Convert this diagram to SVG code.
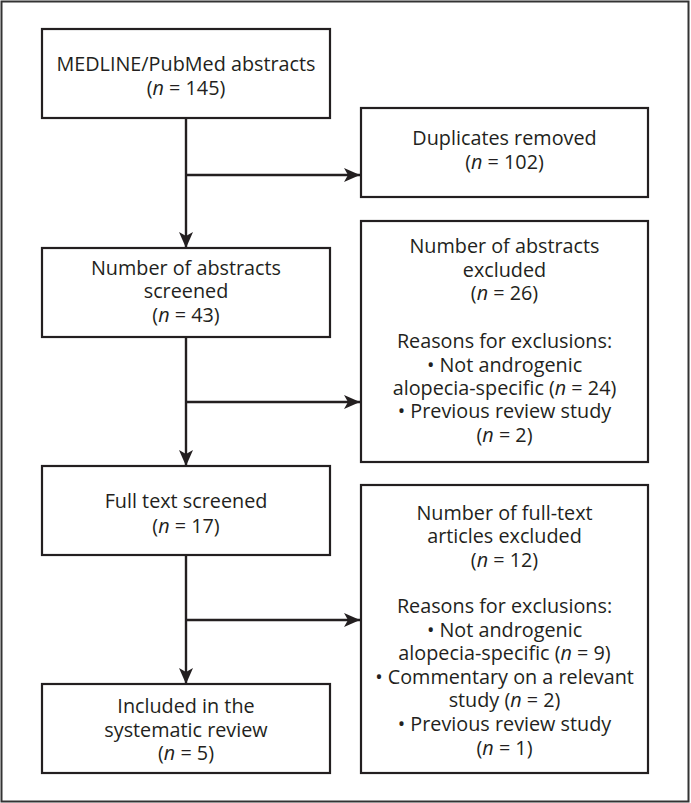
<svg xmlns="http://www.w3.org/2000/svg" width="691" height="803" viewBox="0 0 691 803">
<defs>
<style>
.box{fill:#fff;stroke:#231f20;stroke-width:2.2}
.frame{fill:#fff;stroke:#333;stroke-width:2}
.t{font-family:"Open Sans","Noto Sans","Liberation Sans",sans-serif;font-size:19.8px;fill:#231f20;text-anchor:middle}
.i{font-style:italic}
.c{fill:none;stroke:#231f20;stroke-width:2.4}
</style>
<marker id="ah" markerWidth="16" markerHeight="14" refX="16" refY="7" orient="auto" markerUnits="userSpaceOnUse">
<path d="M0,0 L16,7 L0,14 L4,7 Z" fill="#231f20"/>
</marker>
</defs>
<rect class="frame" x="1.5" y="1.5" width="687" height="800"/>
<g id="connectors">
<line class="c" x1="186" y1="118" x2="186" y2="248" marker-end="url(#ah)"/>
<line class="c" x1="186" y1="175" x2="360" y2="175" marker-end="url(#ah)"/>
<line class="c" x1="186" y1="337" x2="186" y2="466" marker-end="url(#ah)"/>
<line class="c" x1="186" y1="402" x2="360" y2="402" marker-end="url(#ah)"/>
<line class="c" x1="186" y1="555" x2="186" y2="684" marker-end="url(#ah)"/>
<line class="c" x1="186" y1="620" x2="360" y2="620" marker-end="url(#ah)"/>
</g>
<g id="n1">
<rect class="box" x="42" y="29" width="288" height="89"/>
<text class="t"><tspan x="186" y="71">MEDLINE/PubMed abstracts</tspan><tspan x="186" y="95">(<tspan class="i">n</tspan> = 145)</tspan></text>
</g>
<g id="n2">
<rect class="box" x="361" y="108" width="287" height="89"/>
<text class="t"><tspan x="504.5" y="145">Duplicates removed</tspan><tspan x="504.5" y="169">(<tspan class="i">n</tspan> = 102)</tspan></text>
</g>
<g id="n3">
<rect class="box" x="42" y="248" width="288" height="89"/>
<text class="t"><tspan x="186" y="275">Number of abstracts</tspan><tspan x="186" y="298">screened</tspan><tspan x="186" y="322">(<tspan class="i">n</tspan> = 43)</tspan></text>
</g>
<g id="n4">
<rect class="box" x="361" y="221" width="287" height="241"/>
<text class="t"><tspan x="504.5" y="253">Number of abstracts</tspan><tspan x="504.5" y="277">excluded</tspan><tspan x="504.5" y="300">(<tspan class="i">n</tspan> = 26)</tspan><tspan x="504.5" y="348">Reasons for exclusions:</tspan><tspan x="504.5" y="372">• Not androgenic</tspan><tspan x="504.5" y="395">alopecia-specific (<tspan class="i">n</tspan> = 24)</tspan><tspan x="504.5" y="418">• Previous review study</tspan><tspan x="504.5" y="442">(<tspan class="i">n</tspan> = 2)</tspan></text>
</g>
<g id="n5">
<rect class="box" x="42" y="466" width="288" height="89"/>
<text class="t"><tspan x="186" y="508">Full text screened</tspan><tspan x="186" y="533">(<tspan class="i">n</tspan> = 17)</tspan></text>
</g>
<g id="n6">
<rect class="box" x="361" y="485" width="287" height="288"/>
<text class="t"><tspan x="504.5" y="520">Number of full-text</tspan><tspan x="504.5" y="543">articles excluded</tspan><tspan x="504.5" y="567">(<tspan class="i">n</tspan> = 12)</tspan><tspan x="504.5" y="613">Reasons for exclusions:</tspan><tspan x="504.5" y="637">• Not androgenic</tspan><tspan x="504.5" y="660">alopecia-specific (<tspan class="i">n</tspan> = 9)</tspan><tspan x="504.5" y="684">• Commentary on a relevant</tspan><tspan x="504.5" y="707">study (<tspan class="i">n</tspan> = 2)</tspan><tspan x="504.5" y="731">• Previous review study</tspan><tspan x="504.5" y="755">(<tspan class="i">n</tspan> = 1)</tspan></text>
</g>
<g id="n7">
<rect class="box" x="42" y="684" width="288" height="89"/>
<text class="t"><tspan x="186" y="713">Included in the</tspan><tspan x="186" y="737">systematic review</tspan><tspan x="186" y="760">(<tspan class="i">n</tspan> = 5)</tspan></text>
</g>
</svg>
